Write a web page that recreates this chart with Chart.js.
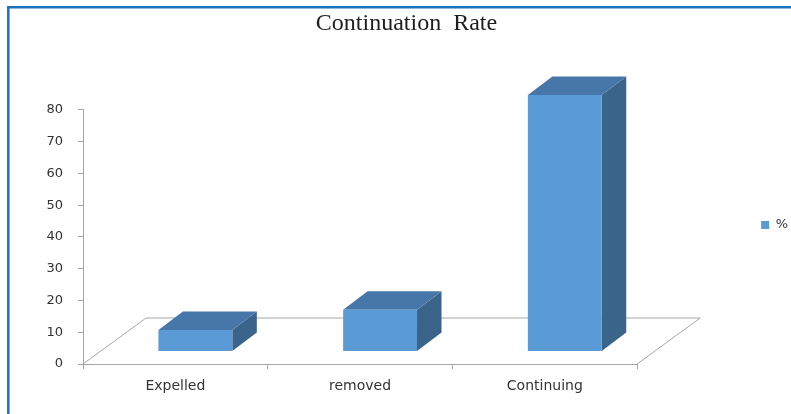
<!DOCTYPE html>
<html lang="en">
<head>
    <meta charset="UTF-8">
    <title>Continuation Rate</title>
    <script src="https://cdn.jsdelivr.net/npm/chart.js"></script>
    <style>
        body { margin: 0; background: #fff; }
    </style>
</head>
<body>
    <canvas id="rateChart" width="791" height="414"></canvas>
    <script>
        const categories = ['Expelled', 'removed', 'Continuing'];
        const percentValues = [6.8, 13.1, 80.7];
        const yTicks = [0, 10, 20, 30, 40, 50, 60, 70, 80];
        const seriesLabel = '%';
        const chartTitle = 'Continuation  Rate';

        // fake 3d: floor depth, bar depth and where the bar front sits on the floor
        const depth = { floorX: 63, floorY: -46, barX: 24.5, barY: -18.5, shiftX: 20, shiftY: -12.5 };

        const box3d = {
            id: 'box3d',
            afterLayout(chart) {
                // legend sits further right than chart.js would put it
                const lg = chart.legend;
                lg.left += 7; lg.right += 7;
                lg.top += 18; lg.bottom += 18;
            },
            beforeDraw(chart) {
                const ctx = chart.ctx;
                ctx.save();
                ctx.strokeStyle = '#1a72c0';
                ctx.lineWidth = 2.5;
                ctx.beginPath();
                ctx.moveTo(8.3, 414);
                ctx.lineTo(8.3, 7.2);
                ctx.lineTo(791, 7.2);
                ctx.stroke();
                ctx.restore();
            },
            beforeDatasetsDraw(chart) {
                const ctx = chart.ctx;
                const x = chart.scales.x, y = chart.scales.y;
                const y0 = y.getPixelForValue(0);
                ctx.save();
                ctx.strokeStyle = '#a6a6a6';
                ctx.lineWidth = 1;
                ctx.beginPath();
                ctx.moveTo(x.left, y0);
                ctx.lineTo(x.left + depth.floorX, y0 + depth.floorY);
                ctx.lineTo(x.right + depth.floorX, y0 + depth.floorY);
                ctx.lineTo(x.right, y0);
                ctx.stroke();

                ctx.translate(depth.shiftX, depth.shiftY);
                const dx = depth.barX, dy = depth.barY;
                chart.getDatasetMeta(0).data.forEach(bar => {
                    const l = bar.x - bar.width / 2, r = bar.x + bar.width / 2;
                    const t = bar.y, b = bar.base;
                    ctx.fillStyle = '#3a6489';
                    ctx.beginPath();
                    ctx.moveTo(r, t);
                    ctx.lineTo(r + dx, t + dy);
                    ctx.lineTo(r + dx, b + dy);
                    ctx.lineTo(r, b);
                    ctx.closePath();
                    ctx.fill();
                    ctx.fillStyle = '#4677a8';
                    ctx.beginPath();
                    ctx.moveTo(l, t);
                    ctx.lineTo(l + dx, t + dy);
                    ctx.lineTo(r + dx, t + dy);
                    ctx.lineTo(r, t);
                    ctx.closePath();
                    ctx.fill();
                });
                // front faces get drawn by chart.js inside this translate
            },
            afterDatasetsDraw(chart) {
                chart.ctx.restore();
            }
        };

        const ctx = document.getElementById('rateChart').getContext('2d');
        new Chart(ctx, {
            type: 'bar',
            data: {
                labels: categories,
                datasets: [{
                    label: seriesLabel,
                    data: percentValues,
                    backgroundColor: '#5b9bd5',
                    borderWidth: 0,
                    categoryPercentage: 0.4,
                    barPercentage: 1,
                    clip: false
                }]
            },
            options: {
                responsive: false,
                animation: false,
                layout: { padding: { left: 22, right: 0, top: 0, bottom: 0 } },
                plugins: {
                    title: {
                        display: true,
                        text: chartTitle,
                        color: '#1e1e1e',
                        font: { family: 'Liberation Serif', size: 24, weight: 'normal' },
                        padding: { top: 9, bottom: 72 }
                    },
                    legend: {
                        position: 'right',
                        labels: {
                            boxWidth: 8,
                            boxHeight: 8,
                            padding: 117,
                            color: '#333',
                            font: { family: 'DejaVu Sans', size: 13 }
                        }
                    },
                    tooltip: { enabled: false }
                },
                scales: {
                    x: {
                        afterFit: s => { s.height = 50; },
                        grid: { drawOnChartArea: false, tickLength: 5, color: '#a6a6a6' },
                        border: { color: '#a6a6a6' },
                        ticks: { color: '#333', padding: 9, font: { family: 'DejaVu Sans', size: 14 } }
                    },
                    y: {
                        min: 0,
                        max: 80,
                        afterFit: s => { s.width = 61; },
                        afterBuildTicks: s => { s.ticks = yTicks.map(v => ({ value: v })); },
                        grid: { drawOnChartArea: false, tickLength: 5, color: '#a6a6a6' },
                        border: { color: '#a6a6a6' },
                        ticks: { color: '#333', padding: 15, font: { family: 'DejaVu Sans', size: 13 } }
                    }
                }
            },
            plugins: [box3d]
        });
    </script>
</body>
</html>
